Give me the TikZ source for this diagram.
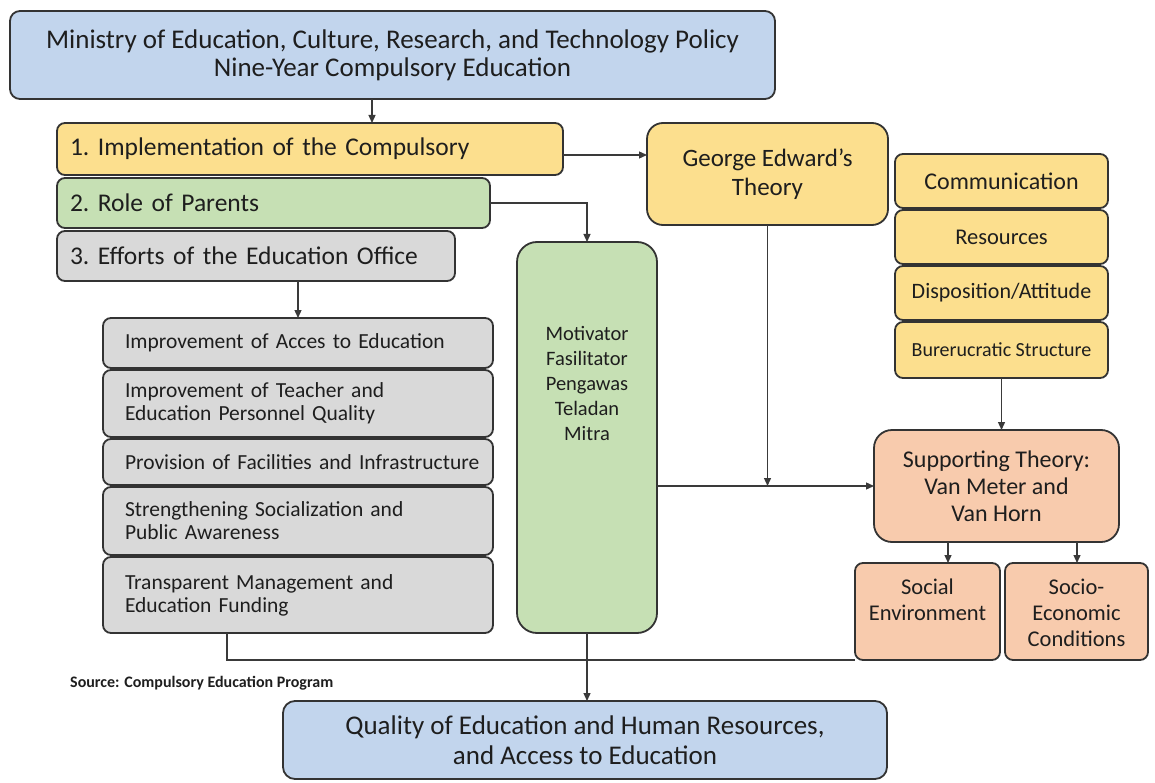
\documentclass[tikz,border=0pt]{standalone}
\usepackage{fontspec}
\setmainfont{Carlito}
\usetikzlibrary{arrows.meta,calc}
\definecolor{cblue}{HTML}{C2D5ED}
\definecolor{cyellow}{HTML}{FCDF8E}
\definecolor{cgreen}{HTML}{C6E0B4}
\definecolor{cgray}{HTML}{D9D9D9}
\definecolor{cpeach}{HTML}{F8CBAD}
\definecolor{cborder}{HTML}{333333}
\definecolor{cline}{HTML}{3A3A3A}
\definecolor{ctext}{HTML}{1E1E1E}
\begin{document}
\begin{tikzpicture}[x=1pt,y=-1pt,
  bx/.style={draw=cborder,line width=1.8pt,inner sep=0pt,outer sep=0pt,text=ctext,rounded corners=8pt},
  txt/.style={inner sep=0pt,text=ctext,align=center},
  conn/.style={draw=cline,line width=1.3pt},
  arr/.style={conn,-{Triangle[length=8pt,width=7pt]}},
  listbox/.style={bx,fill=cgray,minimum width=390pt,text width=346pt,align=left,font=\fontsize{21.5}{23}\selectfont}]
\useasboundingbox[fill=white] (0,0) rectangle (1155,783);

% top
\node[bx,fill=cblue,rounded corners=10pt,minimum width=765pt,minimum height=88pt,align=center,font=\fontsize{27}{28}\selectfont] (top) at (392.5,55) {Ministry of Education, Culture, Research, and Technology Policy\\Nine-Year Compulsory Education};

% three items
\node[bx,fill=cyellow,minimum width=506pt,minimum height=52pt,text width=480pt,align=left,font=\fontsize{25.5}{27}\selectfont] (b1) at (310,149) {1.\ Implementation of the Compulsory};
\node[bx,fill=cgreen,minimum width=433pt,minimum height=50pt,text width=407pt,align=left,font=\fontsize{25.5}{27}\selectfont] (b2) at (273.5,203) {2.\ Role of Parents};
\node[bx,fill=cgray,minimum width=398pt,minimum height=50pt,text width=372pt,align=left,font=\fontsize{25.5}{27}\selectfont] (b3) at (256,256) {3.\ Efforts of the Education Office};

% George Edward
\node[bx,fill=cyellow,rounded corners=16pt,minimum width=241pt,minimum height=102pt,align=center,font=\fontsize{25}{29}\selectfont] (geo) at (767.5,174) {George Edward's\\Theory};

% right column
\node[bx,fill=cyellow,minimum width=213pt,minimum height=54pt,font=\fontsize{24}{26}\selectfont] (com) at (1001.5,181) {Communication};
\node[bx,fill=cyellow,minimum width=213pt,minimum height=54pt,font=\fontsize{22.5}{26}\selectfont] (res) at (1001.5,237) {Resources};
\node[bx,fill=cyellow,minimum width=213pt,minimum height=54pt,font=\fontsize{22}{24}\selectfont] (dis) at (1001.5,293) {Disposition/Attitude};
\node[bx,fill=cyellow,minimum width=213pt,minimum height=56pt,font=\fontsize{20}{22}\selectfont] (bur) at (1001.5,350) {Burerucratic Structure};

% supporting theory
\node[bx,fill=cpeach,rounded corners=18pt,minimum width=245pt,minimum height=112pt,align=center,font=\fontsize{24}{27}\selectfont] (sup) at (996.5,486) {Supporting Theory:\\Van Meter and\\Van Horn};
\node[bx,fill=cpeach,minimum width=145pt,minimum height=97pt] (soc) at (927.5,611.5) {};
\node[txt,font=\fontsize{22.5}{26}\selectfont] (soct) at (927.5,600) {Social\\Environment};
\node[bx,fill=cpeach,minimum width=143pt,minimum height=97pt] (sec) at (1076.5,611.5) {};
\node[txt,font=\fontsize{22.5}{26}\selectfont] (sect) at (1076.5,613) {Socio-\\Economic\\Conditions};

% motivator
\node[bx,fill=cgreen,rounded corners=20pt,minimum width=140pt,minimum height=391pt] (mot) at (587,437.5) {};
\node[txt,font=\fontsize{20.5}{25}\selectfont] (mott) at (587,383) {Motivator\\Fasilitator\\Pengawas\\Teladan\\Mitra};

% list
\node[listbox,minimum height=50pt] (la) at (298,343) {\mbox{Improvement of Acces to Education}};
\node[listbox,minimum height=67pt] (lb) at (298,403.5) {\mbox{Improvement of Teacher and}\\\mbox{Education Personnel Quality}};
\node[listbox,minimum height=46pt] (lc) at (298,462) {\mbox{Provision of Facilities and Infrastructure}};
\node[listbox,minimum height=68pt] (ld) at (298,521) {\mbox{Strengthening Socialization and}\\\mbox{Public Awareness}};
\node[listbox,minimum height=76pt] (le) at (298,595) {\mbox{Transparent Management and}\\\mbox{Education Funding}};

% bottom
\node[bx,fill=cblue,rounded corners=12pt,minimum width=604pt,minimum height=78pt,align=center,font=\fontsize{27}{30}\selectfont] (qual) at (585,740) {Quality of Education and Human Resources,\\and Access to Education};
\node[txt,anchor=west,font=\bfseries\fontsize{16}{18}\selectfont] (src) at (70,683) {Source: Compulsory Education Program};

% helper coordinates
\coordinate (ya) at (0,155);
\coordinate (xa) at (372,0);
\coordinate (xs1) at (948,0);
\coordinate (xs2) at (1077,0);
\coordinate (xg) at (227,0);

% connectors
\draw[arr] (top.south -| xa) -- (b1.north -| xa);
\draw[arr] (b1.east |- ya) -- (geo.west |- ya);
\draw[arr] (b2.east) -| (mot.north);
\draw[arr] (b3.south -| la.north) -- (la.north);
\draw[arr] (geo.south) -- (geo.south |- sup.west);
\draw[arr] (mot.east |- sup.west) -- (sup.west);
\draw[arr] (bur.south) -- (bur.south |- sup.north);
\draw[arr] (sup.south -| xs1) -- (soc.north -| xs1);
\draw[arr] (sup.south -| xs2) -- (sec.north -| xs2);
\draw[conn] (le.south -| xg) |- (soc.south west);
\draw[arr] (mot.south) -- (mot.south |- qual.north);
\end{tikzpicture}
\end{document}
